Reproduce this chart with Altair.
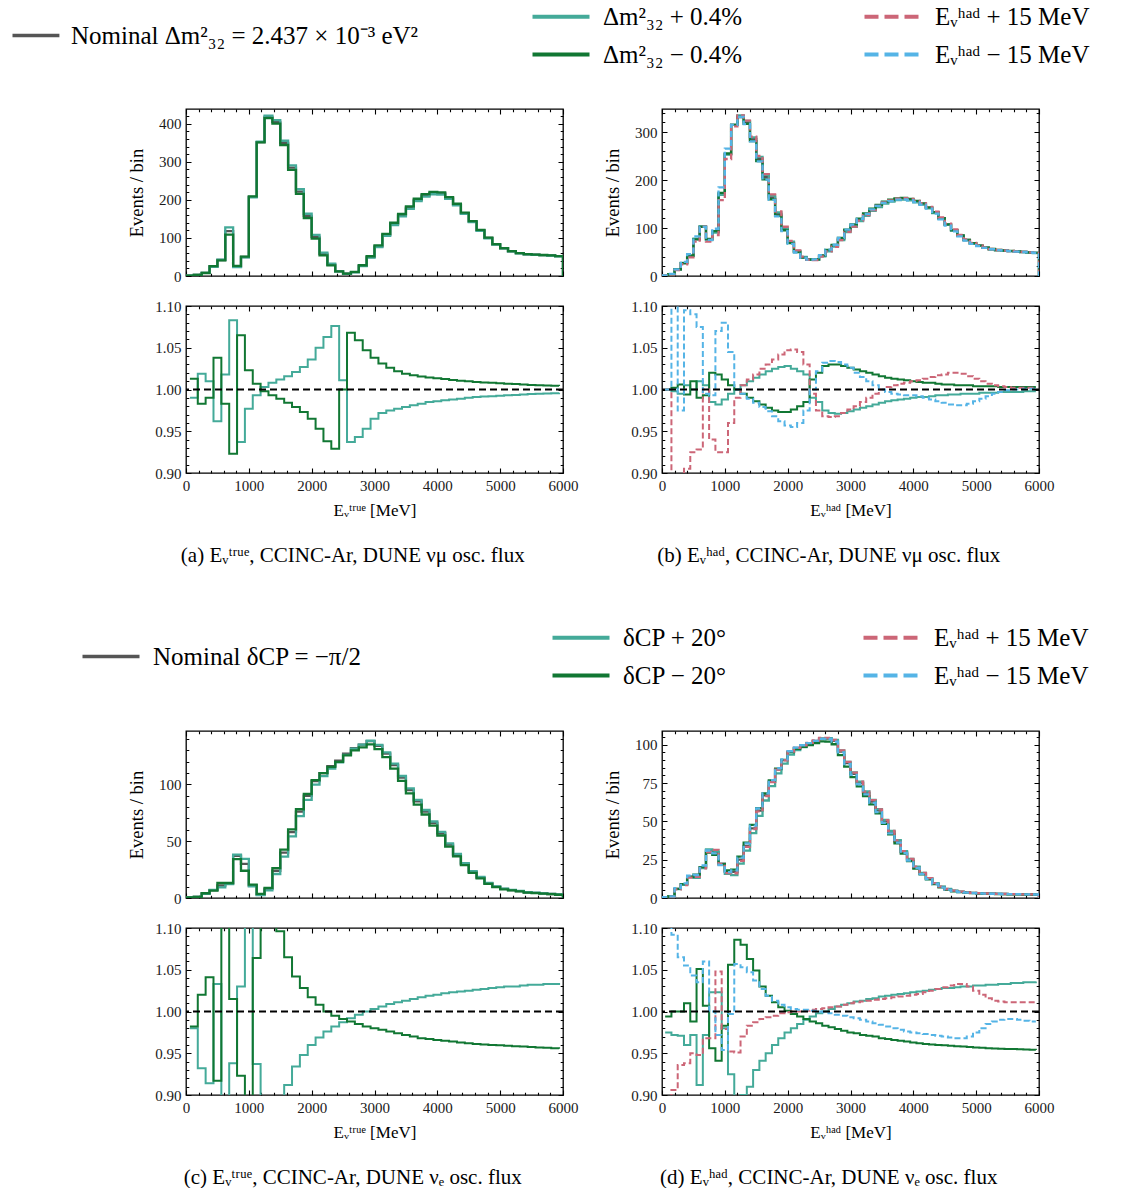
import altair as alt
import pandas as pd

# ---------------- data ----------------
BIN_TRUE = 125   # MeV, panels (a) and (c)
BIN_HAD = 100    # MeV, panels (b) and (d)
X_MAX = 6000

# (a) E_true, numu
A_NOM = [1, 3, 8, 25, 42, 118, 25, 50, 208, 352, 418, 405, 350, 285, 222, 158, 103, 58, 30, 12,
         6, 10, 27, 50, 78, 108, 137, 160, 180, 200, 212, 218, 217, 205, 188, 165, 143, 120, 100, 83,
         73, 65, 60, 57, 56, 55, 54, 52]
A_PLUS = [0.99, 1.019, 1.01, 0.962, 1.018, 1.083, 0.937, 0.977, 0.993, 1.003, 1.008, 1.012, 1.016, 1.021,
          1.027, 1.036, 1.05, 1.063, 1.076, 1.011, 0.937, 0.943, 0.953, 0.965, 0.972, 0.975, 0.977, 0.979,
          0.981, 0.983, 0.985, 0.986, 0.987, 0.988, 0.989, 0.990, 0.991, 0.9915, 0.992, 0.9925, 0.993,
          0.9935, 0.994, 0.9945, 0.995, 0.9952, 0.9955, 0.996]
A_MINUS = [1.013, 0.983, 0.99, 1.038, 0.983, 0.923, 1.065, 1.023, 1.007, 0.998, 0.993, 0.989, 0.984, 0.979,
           0.973, 0.965, 0.953, 0.938, 0.929, 1.0, 1.068, 1.059, 1.047, 1.038, 1.031, 1.026, 1.022, 1.019,
           1.017, 1.0155, 1.0145, 1.0135, 1.0125, 1.0115, 1.0105, 1.0098, 1.009, 1.0085, 1.008, 1.0075,
           1.007, 1.0065, 1.006, 1.0055, 1.005, 1.0047, 1.0044, 1.0042]

# (b) E_had, numu
B_NOM = [1, 4, 14, 27, 42, 77, 103, 76, 92, 171, 254, 315, 333, 320, 285, 244, 206, 164, 129, 98,
         70, 51, 39, 34, 34, 42, 53, 63, 77, 94, 105, 117, 128, 138, 146, 153, 157, 160, 161, 159,
         155, 150, 142, 132, 120, 107, 95, 84, 75, 68, 63, 59, 56, 54, 53, 52, 51, 50, 49, 48]
B_PLUS = [1.0, 0.998, 0.995, 1.005, 1.0, 1.01, 1.005, 0.985, 0.982, 0.988, 0.995, 1.0, 1.005, 1.01, 1.014,
          1.018, 1.022, 1.025, 1.027, 1.028, 1.025, 1.022, 1.018, 0.99, 0.985, 0.975, 0.972, 0.971, 0.972,
          0.974, 0.976, 0.978, 0.98, 0.982, 0.984, 0.986, 0.987, 0.988, 0.989, 0.99, 0.991, 0.991, 0.992,
          0.993, 0.993, 0.994, 0.994, 0.995, 0.995, 0.995, 0.996, 0.996, 0.996, 0.997, 0.997, 0.997,
          0.997, 0.998, 0.998, 0.998]
B_MINUS = [1.0, 1.002, 1.006, 0.994, 1.01, 0.99, 0.993, 1.02, 1.018, 1.012, 1.005, 1.0, 0.995, 0.99, 0.986,
           0.982, 0.978, 0.975, 0.973, 0.973, 0.976, 0.98, 0.985, 1.012, 1.02, 1.028, 1.03, 1.03, 1.028,
           1.026, 1.024, 1.022, 1.02, 1.018, 1.016, 1.014, 1.013, 1.012, 1.011, 1.01, 1.009, 1.008, 1.008,
           1.007, 1.006, 1.006, 1.005, 1.005, 1.005, 1.004, 1.004, 1.004, 1.004, 1.003, 1.003, 1.003,
           1.003, 1.003, 1.003, 1.003]
B_EUP = [1.0, 0.88, 0.88, 0.905, 0.925, 0.928, 1.0, 0.94, 0.925, 0.925, 0.96, 0.99, 1.005, 1.012, 1.018,
         1.025, 1.03, 1.036, 1.042, 1.047, 1.048, 1.045, 1.03, 0.995, 0.975, 0.968, 0.967, 0.968, 0.972,
         0.976, 0.98, 0.985, 0.99, 0.995, 1.0, 1.003, 1.005, 1.007, 1.008, 1.01, 1.011, 1.013, 1.015, 1.017,
         1.018, 1.02, 1.02, 1.019, 1.016, 1.013, 1.01, 1.007, 1.005, 1.004, 1.003, 1.002, 1.002, 1.002,
         1.002, 1.002]
B_EDN = [1.0, 1.15, 0.975, 1.095, 1.09, 1.075, 0.995, 0.993, 1.07, 1.08, 1.045, 1.0, 0.995, 0.989, 0.984,
         0.979, 0.974, 0.968, 0.962, 0.957, 0.955, 0.96, 0.975, 1.0, 1.022, 1.032, 1.034, 1.033, 1.03,
         1.026, 1.02, 1.015, 1.01, 1.005, 1.0, 0.997, 0.995, 0.994, 0.993, 0.993, 0.992, 0.99, 0.988,
         0.986, 0.984, 0.982, 0.981, 0.981, 0.983, 0.986, 0.989, 0.992, 0.995, 0.997, 0.999, 1.0, 1.0,
         1.001, 1.001, 1.0]

# (c) E_true, nue
C_NOM = [0.5, 1, 4, 7, 11, 13, 37, 30, 11, 3, 8, 24, 40, 58, 76, 90, 103, 110, 116, 121,
         127, 132, 135, 138, 134, 127, 117, 106, 95, 85, 76, 66, 57, 47, 38, 30, 23, 18, 13, 10,
         8, 7, 6, 5, 4.5, 4, 3.5, 3]
C_PLUS = [0.98, 0.932, 0.914, 1.033, 0.85, 0.938, 1.03, 1.15, 0.937, 0.85, 0.85, 0.88, 0.912, 0.934, 0.948,
          0.96, 0.969, 0.976, 0.982, 0.987, 0.992, 0.996, 1.0, 1.003, 1.006, 1.009, 1.011, 1.013, 1.015,
          1.017, 1.019, 1.02, 1.022, 1.023, 1.024, 1.025, 1.026, 1.027, 1.028, 1.029, 1.03, 1.03, 1.031,
          1.032, 1.032, 1.033, 1.033, 1.034]
C_MINUS = [0.982, 1.02, 1.041, 0.917, 1.2, 1.015, 0.923, 0.8, 1.064, 1.2, 1.12, 1.096, 1.065, 1.042, 1.028,
           1.017, 1.008, 1.0, 0.995, 0.991, 0.988, 0.985, 0.982, 0.98, 0.978, 0.976, 0.974, 0.972, 0.97,
           0.968, 0.967, 0.966, 0.965, 0.964, 0.963, 0.962, 0.961, 0.9605, 0.96, 0.9595, 0.959, 0.9585,
           0.958, 0.9575, 0.957, 0.9565, 0.956, 0.9555]

# (d) E_had, nue
D_NOM = [0.5, 1, 6, 9, 14, 14.5, 20, 31, 30, 22.5, 17, 17, 25, 34, 45.5, 57, 67, 76, 84, 90,
         95.5, 98, 99.5, 101, 102.5, 104, 104, 102.5, 95.5, 88, 81, 75, 68.5, 63, 57, 50, 43, 37, 30, 25,
         20, 16, 12.7, 9.4, 7.2, 5.7, 4.6, 4, 3.6, 3.3, 3.1, 2.9, 2.8, 2.7, 2.6, 2.5, 2.5, 2.4, 2.4, 2.3]
D_PLUS = [0.975, 0.972, 0.971, 0.96, 0.972, 0.912, 0.972, 1.023, 1.023, 0.98, 0.925, 0.88, 0.9, 0.91, 0.93,
          0.941, 0.95, 0.96, 0.968, 0.975, 0.98, 0.985, 0.99, 0.994, 0.998, 1.0, 1.003, 1.006, 1.008, 1.01,
          1.012, 1.013, 1.015, 1.016, 1.018, 1.019, 1.02, 1.021, 1.022, 1.023, 1.024, 1.025, 1.026, 1.027,
          1.028, 1.028, 1.029, 1.03, 1.03, 1.031, 1.031, 1.032, 1.032, 1.033, 1.033, 1.034, 1.034, 1.035,
          1.035, 1.036]
D_MINUS = [0.994, 1.0, 1.0, 1.01, 0.988, 1.051, 1.007, 0.956, 0.941, 0.983, 1.056, 1.086, 1.08, 1.063, 1.049,
           1.03, 1.019, 1.011, 1.005, 1.001, 0.997, 0.994, 0.991, 0.988, 0.986, 0.983, 0.981, 0.979, 0.977,
           0.975, 0.974, 0.972, 0.971, 0.97, 0.968, 0.967, 0.966, 0.965, 0.964, 0.963, 0.962, 0.961, 0.9605,
           0.96, 0.9595, 0.959, 0.9585, 0.958, 0.9575, 0.957, 0.9565, 0.956, 0.9557, 0.9555, 0.9552, 0.955,
           0.9547, 0.9545, 0.9542, 0.954]
D_EUP = [0.88, 0.906, 0.936, 0.938, 0.95, 0.948, 0.968, 0.968, 1.048, 0.979, 0.952, 0.951, 0.97, 0.983, 0.987,
         0.991, 0.993, 0.995, 0.998, 0.999, 1.0, 1.0, 1.001, 1.002, 1.003, 1.004, 1.005, 1.006, 1.008, 1.01,
         1.011, 1.012, 1.013, 1.014, 1.015, 1.016, 1.017, 1.018, 1.019, 1.02, 1.021, 1.023, 1.025, 1.027,
         1.029, 1.031, 1.033, 1.033, 1.03, 1.025, 1.02, 1.016, 1.013, 1.012, 1.011, 1.011, 1.011, 1.011,
         1.011, 1.011]
D_EDN = [1.12, 1.092, 1.065, 1.055, 1.043, 1.035, 1.06, 1.0, 0.972, 0.954, 0.997, 1.057, 1.053, 1.047, 1.037,
         1.027, 1.019, 1.013, 1.008, 1.005, 1.003, 1.002, 1.002, 1.001, 1.0, 0.999, 0.998, 0.996, 0.995,
         0.993, 0.992, 0.99, 0.988, 0.986, 0.984, 0.982, 0.98, 0.978, 0.976, 0.975, 0.974, 0.973, 0.972,
         0.971, 0.97, 0.969, 0.968, 0.968, 0.97, 0.975, 0.98, 0.985, 0.988, 0.99, 0.991, 0.991, 0.99, 0.989,
         0.988, 0.988]

# y-axis ranges of the event panels: (max, minor step, major step)
Y_TOP = {"a": (439, 20, 100), "b": (348, 20, 100), "c": (147, 10, 50), "d": (109, 5, 25)}

# text
X_TITLE_TRUE = "Eᵥᵗʳᵘᵉ [MeV]"
X_TITLE_HAD = "Eᵥʰᵃᵈ [MeV]"
CAPTIONS = {
    "a": "(a) Eᵥᵗʳᵘᵉ, CCINC-Ar, DUNE νμ osc. flux",
    "b": "(b) Eᵥʰᵃᵈ, CCINC-Ar, DUNE νμ osc. flux",
    "c": "(c) Eᵥᵗʳᵘᵉ, CCINC-Ar, DUNE νₑ osc. flux",
    "d": "(d) Eᵥʰᵃᵈ, CCINC-Ar, DUNE νₑ osc. flux",
}
LEG1_NOM = "Nominal Δm²₃₂ = 2.437 × 10⁻³ eV²"
LEG1_VAR = ["Δm²₃₂ + 0.4%", "Δm²₃₂ − 0.4%", "Eᵥʰᵃᵈ + 15 MeV", "Eᵥʰᵃᵈ − 15 MeV"]
LEG2_NOM = "Nominal δCP = −π/2"
LEG2_VAR = ["δCP + 20°", "δCP − 20°", "Eᵥʰᵃᵈ + 15 MeV", "Eᵥʰᵃᵈ − 15 MeV"]

# ---------------- style ----------------
FONT = "Liberation Serif"
W, H = 377, 167
COL_NOM = "#555555"
COL_PLUS = "#44AA99"
COL_MINUS = "#117733"
COL_EUP = "#CC6677"
COL_EDN = "#55B4E6"
DASH = [6, 3]
TICK_FS = 15
XTITLE_FS = 17
YTITLE_FS = 18.5


def major_test(step):
    return f"abs(datum.value / {step} - round(datum.value / {step})) < 1e-6"


def tick_dash(length, test):
    return {"condition": {"test": test, "value": [5, length - 10, 5, 5000]},
            "value": [2.8, length - 5.6, 2.8, 5000]}


def make_x(labels, title):
    test = major_test(1000)
    kw = dict(values=list(range(0, X_MAX + 1, 200)), grid=True, gridColor="black", gridWidth=1.1,
              gridDash=tick_dash(H, test), ticks=False, domain=False, labels=labels, title=title)
    if labels:
        kw.update(format="d", labelExpr=f"{test} ? datum.label : ''", labelFont=FONT, labelFontSize=TICK_FS,
                  labelColor="#1a1a1a", labelPadding=5, labelOverlap=False, labelFlush=False)
    if title:
        kw.update(titleFont=FONT, titleFontSize=XTITLE_FS, titleFontWeight="normal", titleColor="black",
                  titlePadding=9)
    return alt.X("x:Q", scale=alt.Scale(domain=[0, X_MAX], nice=False, zero=False), axis=alt.Axis(**kw))


def make_y(ymin, ymax, minor, major, fmt, title):
    n = int(round((ymax - ymin) / minor + 1e-9))
    vals = [round(ymin + i * minor, 4) for i in range(n + 1) if ymin + i * minor <= ymax + 1e-9]
    test = major_test(major)
    kw = dict(values=vals, grid=True, gridColor="black", gridWidth=1.1, gridDash=tick_dash(W, test),
              ticks=False, domain=False, format=fmt, labelExpr=f"{test} ? datum.label : ''",
              labelFont=FONT, labelFontSize=TICK_FS, labelColor="#1a1a1a", labelPadding=5,
              labelOverlap=False, labelFlush=False, title=title)
    if title:
        kw.update(titleFont=FONT, titleFontSize=YTITLE_FS, titleFontWeight="normal", titleColor="black",
                  titlePadding=12)
    return alt.Y("y:Q", scale=alt.Scale(domain=[ymin, ymax], nice=False, zero=False), axis=alt.Axis(**kw))


def hist_df(values, bw):
    xs, ys = [0], [0]
    for i, v in enumerate(values):
        xs.append(i * bw)
        ys.append(v)
    xs.append(len(values) * bw)
    ys.append(0)
    return pd.DataFrame({"x": xs, "y": ys, "o": list(range(len(xs)))})


def ratio_df(ratios, bw):
    xs = [bw * (i + 0.5) for i in range(len(ratios))]
    return pd.DataFrame({"x": xs, "y": ratios, "o": list(range(len(xs)))})


def line(df, xe, ye, color, width, dash=None):
    kw = dict(interpolate="step-after", color=color, strokeWidth=width, clip=True)
    if dash:
        kw["strokeDash"] = dash
    return alt.Chart(df).mark_line(**kw).encode(x=xe, y=ye, order="o:Q")


def column(key, nom, series, bw, xtitle):
    ymax, minor, major = Y_TOP[key]
    xe_top = make_x(False, None)
    ye_top = make_y(0, ymax, minor, major, "d", "Events / bin")
    top_layers = [line(hist_df(nom, bw), xe_top, ye_top, COL_NOM, 2.3)]
    for ratios, color, dash in series:
        shifted = [n * r for n, r in zip(nom, ratios)]
        top_layers.append(line(hist_df(shifted, bw), xe_top, ye_top, color, 2.3, dash))
    top = alt.layer(*top_layers).properties(width=W, height=H)

    xe_r = make_x(True, xtitle)
    ye_r = make_y(0.9, 1.1, 0.01, 0.05, ".2f", None)
    r_layers = [line(ratio_df(ratios, bw), xe_r, ye_r, color, 2.0, dash) for ratios, color, dash in series]
    ref = alt.Chart(pd.DataFrame({"y": [1.0]})).mark_rule(color="black", strokeWidth=2, strokeDash=[7, 4]).encode(y=ye_r)
    r_layers.append(ref)
    ratio = alt.layer(*r_layers).properties(width=W, height=H)

    return alt.vconcat(top, ratio, spacing=13).properties(
        title=alt.TitleParams(CAPTIONS[key], orient="bottom", anchor="middle", font=FONT, fontSize=21,
                              fontWeight="normal", color="black", offset=26))


LEG_TEXT = dict(title=None, labelFont=FONT, labelFontSize=25, labelColor="black", labelLimit=1000,
                padding=0, symbolOpacity=1, symbolType="M0,0H10")


def legend_chart(nom_label, var_labels, height, nom_xy, nom_size, nom_offset, var_xy, col_pad):
    base = dict(x=alt.value(0), x2=alt.value(0), y=alt.value(0))
    nom_leg = alt.Legend(orient="none", legendX=nom_xy[0], legendY=nom_xy[1], symbolSize=nom_size,
                         symbolStrokeWidth=3.5, labelOffset=nom_offset, **LEG_TEXT)
    nom = alt.Chart(pd.DataFrame({"s": [nom_label]})).mark_rule(strokeWidth=4).encode(
        stroke=alt.Stroke("s:N", scale=alt.Scale(domain=[nom_label], range=[COL_NOM]), legend=nom_leg),
        **base)
    leg = alt.Legend(orient="none", legendX=var_xy[0], legendY=var_xy[1], columns=2,
                     columnPadding=col_pad, rowPadding=12, symbolSize=130, symbolStrokeWidth=4,
                     labelOffset=58, **LEG_TEXT)
    var = alt.Chart(pd.DataFrame({"s": var_labels})).mark_rule(strokeWidth=4).encode(
        color=alt.Color("s:N", scale=alt.Scale(domain=var_labels,
                                               range=[COL_PLUS, COL_MINUS, COL_EUP, COL_EDN]), legend=leg),
        strokeDash=alt.StrokeDash("s:N", scale=alt.Scale(domain=var_labels,
                                                         range=[[1, 0], [1, 0], [14, 6], [14, 6]]), legend=leg),
        **base)
    return alt.layer(nom, var).properties(width=W, height=height,
                                          view=alt.ViewBackground(strokeWidth=0))


col_a = column("a", A_NOM, [(A_PLUS, COL_PLUS, None), (A_MINUS, COL_MINUS, None)], BIN_TRUE, X_TITLE_TRUE)
col_b = column("b", B_NOM, [(B_PLUS, COL_PLUS, None), (B_MINUS, COL_MINUS, None),
                            (B_EUP, COL_EUP, DASH), (B_EDN, COL_EDN, DASH)], BIN_HAD, X_TITLE_HAD)
col_c = column("c", C_NOM, [(C_PLUS, COL_PLUS, None), (C_MINUS, COL_MINUS, None)], BIN_TRUE, X_TITLE_TRUE)
col_d = column("d", D_NOM, [(D_PLUS, COL_PLUS, None), (D_MINUS, COL_MINUS, None),
                            (D_EUP, COL_EUP, DASH), (D_EDN, COL_EDN, DASH)], BIN_HAD, X_TITLE_HAD)

row1 = alt.hconcat(col_a, col_b, spacing=23)
row2 = alt.hconcat(col_c, col_d, spacing=23)

leg1 = legend_chart(LEG1_NOM, LEG1_VAR, 103, (-186, 21), 88, 46, (334, 2), 109)
leg2 = legend_chart(LEG2_NOM, LEG2_VAR, 161, (-116, 76), 130, 58, (354, 57), 124)

chart = alt.vconcat(leg1, row1, leg2, row2, spacing=0).properties(
    padding={"left": 0, "top": 0, "right": 0, "bottom": 0}
).resolve_scale(color="independent", stroke="independent", strokeDash="independent"
).configure(font=FONT).configure_view(stroke="black", strokeWidth=1.3)

chart.save("out.html", embed_options={"renderer": "svg", "actions": False})
